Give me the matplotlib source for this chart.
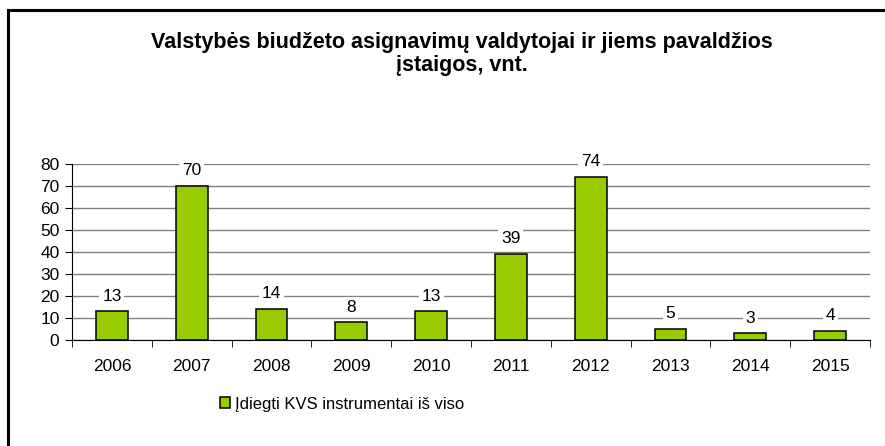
import numpy as np
import matplotlib.pyplot as plt
from matplotlib.lines import Line2D

years = ["2006", "2007", "2008", "2009", "2010", "2011", "2012", "2013", "2014", "2015"]
counts = [13, 70, 14, 8, 13, 39, 74, 5, 3, 4]
series_name = "Įdiegti KVS instrumentai iš viso"
title = "Valstybės biudžeto asignavimų valdytojai ir jiems pavaldžios\nįstaigos, vnt."

plt.rcParams['font.family'] = ['Liberation Sans', 'DejaVu Sans']

fig = plt.figure(figsize=(8.85, 4.46), dpi=100)
ax = fig.add_axes([72/885, 1 - 340/446, (870 - 72)/885, (340 - 164)/446])

x = np.arange(len(years))
bars = ax.bar(x, counts, width=0.4, color="#99CC00", edgecolor="black", linewidth=1.1,
              label=series_name, zorder=3)

ax.set_xlim(-0.5, len(years) - 0.5)
ax.set_ylim(0, 80)
ax.set_yticks(range(0, 81, 10))
ax.set_xticks(x)
ax.set_xticklabels(years)
ax.set_xticks(np.arange(-0.5, len(years)), minor=True)
ax.tick_params(axis="x", which="major", length=0, pad=14, labelsize=12.5)
ax.tick_params(axis="x", which="minor", length=5, direction="out", color="black")
ax.tick_params(axis="y", length=5, direction="out", labelsize=12.5, pad=4)

ax.grid(axis="y", color="#808080", linewidth=1, zorder=0)
for s in ["top", "right"]:
    ax.spines[s].set_visible(False)
ax.spines["left"].set_color("black")
ax.spines["bottom"].set_color("black")

for b, v in zip(bars, counts):
    ax.annotate(str(v), (b.get_x() + b.get_width()/2, v), xytext=(0, 11),
                textcoords="offset points", ha="center", va="center", fontsize=12.5,
                bbox=dict(facecolor="white", edgecolor="none", pad=2), zorder=4)

fig.text(0.522, 1 - 54/446, title, ha="center", va="center", fontsize=15.5,
         fontweight="bold", linespacing=1.1)

fig.legend(loc="center left", bbox_to_anchor=(205/885, 1 - 404/446), frameon=False,
           fontsize=12, handlelength=0.6, handleheight=0.6, handletextpad=0.3)

# frame lines around the chart (only top and left visible in the crop)
fig.add_artist(Line2D([8/885, 1], [1 - 10/446, 1 - 10/446], color="black", linewidth=2.2,
                      transform=fig.transFigure))
fig.add_artist(Line2D([8/885, 8/885], [0, 1 - 10/446], color="black", linewidth=2.2,
                      transform=fig.transFigure))

fig.savefig("out.png", dpi=100)
